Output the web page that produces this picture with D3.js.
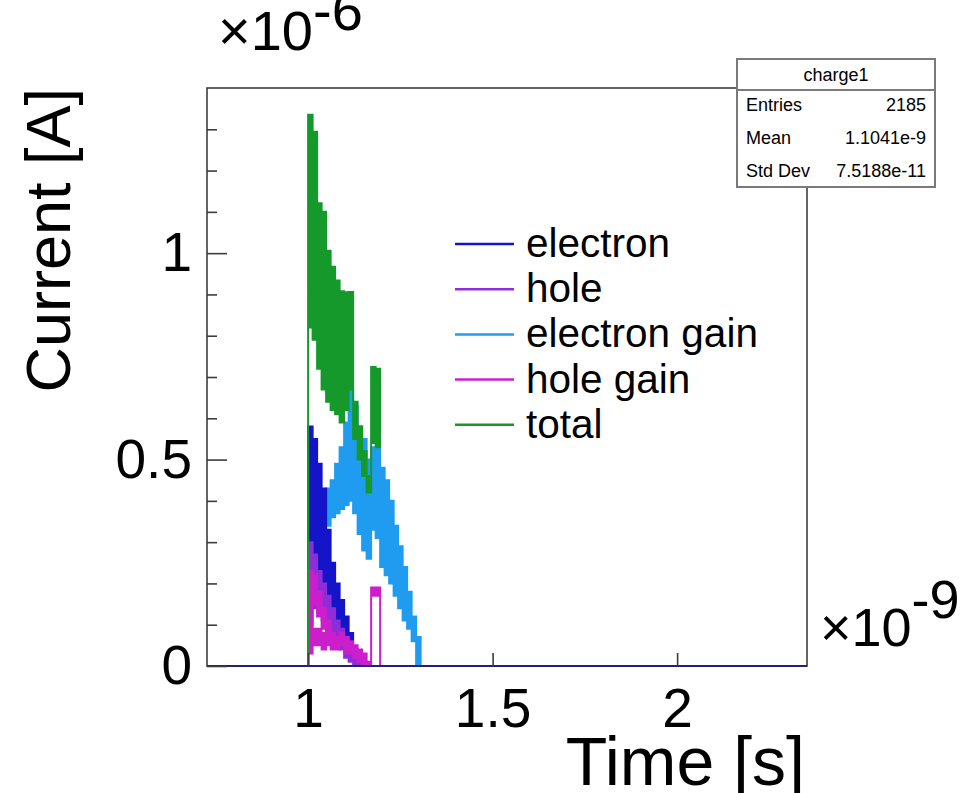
<!DOCTYPE html>
<html><head><meta charset="utf-8">
<script src="https://cdn.jsdelivr.net/npm/d3@7"></script>
<style>
body{margin:0;background:#fff}
text{font-family:"Liberation Sans",Arial,Helvetica,sans-serif;fill:#000}
</style></head>
<body><svg id="c" width="974" height="793"></svg>
<script>
// ---- data (current in units of 1e-6 A, time in units of 1e-9 s) ----
const binStart = 1.0;
const binWidth = 0.0122;

// each series: per-bin lower / upper envelope of the (rapidly oscillating) histogram
const electronHi = [0.58, 0.55, 0.49, 0.43, 0.33, 0.25, 0.20, 0.16, 0.12, 0.08, 0.04, 0.015, 0.005];
const electronLo = [0.22, 0.21, 0.19, 0.17, 0.15, 0.13, 0.11, 0.09, 0.06, 0.03, 0.01, 0.0, 0.0];

const holeHi = [0.30, 0.27, 0.23, 0.20, 0.17, 0.14, 0.11, 0.09, 0.07, 0.04, 0.02, 0.01];
const holeLo = [0.14, 0.14, 0.13, 0.11, 0.09, 0.07, 0.05, 0.04, 0.02, 0.01, 0.0, 0.0];

const eGainHi = [0.25, 0.30, 0.35, 0.38, 0.43, 0.45, 0.49, 0.53, 0.59, 0.673, 0.63, 0.58, 0.55, 0.50, 0.53, 0.53, 0.48, 0.45, 0.40, 0.34, 0.29, 0.24, 0.18, 0.12, 0.07];
const eGainLo = [0.10, 0.18, 0.24, 0.30, 0.34, 0.36, 0.37, 0.38, 0.39, 0.40, 0.37, 0.32, 0.28, 0.26, 0.33, 0.31, 0.24, 0.22, 0.20, 0.17, 0.14, 0.11, 0.09, 0.06, 0.0];

const hGainHi = [0.16, 0.09, 0.09, 0.08, 0.09, 0.08, 0.07, 0.08, 0.07, 0.06, 0.05, 0.04, 0.03, 0.01, 0.19, 0.19];
const hGainLo = [0.03, 0.05, 0.05, 0.04, 0.05, 0.04, 0.04, 0.05, 0.03, 0.03, 0.02, 0.01, 0.0, 0.0, 0.17, 0.17];
const hGainUpperHi = [0.23, 0.22, 0.18, 0.14, 0.11];
const hGainUpperLo = [0.16, 0.15, 0.12, 0.09, 0.08];

const totalHi = [1.335, 1.294, 1.121, 1.100, 1.006, 0.967, 0.934, 0.908, 0.905, 0.906, 0.640, 0.580, 0.520, 0.460, 0.724, 0.720];
const totalLo = [0.820, 0.790, 0.720, 0.670, 0.640, 0.620, 0.610, 0.590, 0.620, 0.670, 0.550, 0.500, 0.460, 0.420, 0.540, 0.530];

const legendNames = ["electron", "hole", "electron gain", "hole gain", "total"];
const legendColors = ["#1414c8", "#8e2ed8", "#1f9cf0", "#cc1fcc", "#15992b"];

const xMajor = [1, 1.5, 2];
const yMajor = [0, 0.5, 1];
const yMinor = [0.1, 0.2, 0.3, 0.4, 0.6, 0.7, 0.8, 0.9, 1.1, 1.2, 1.3];

const statsTitle = "charge1";
const statsLabels = ["Entries", "Mean", "Std Dev"];
const statsValues = ["2185", "1.1041e-9", "7.5188e-11"];

// ---- layout ----
const L = 207, R = 807, T = 88, B = 666;
const svg = d3.select("#c");
const x = d3.scaleLinear().domain([0.726, 2.352]).range([L, R]);
const y = d3.scaleLinear().domain([0, 1.4]).range([B, T]);

// frame
svg.append("rect").attr("x", L).attr("y", T).attr("width", R - L).attr("height", B - T)
  .attr("fill", "none").attr("stroke", "#3c3c3c").attr("stroke-width", 1.6);

// histogram bands
const gData = svg.append("g");
function band(lo, hi, color, startBin, riseStart, fallEnd) {
  const pts = hi.map((h, i) => ({x: binStart + (startBin + i) * binWidth, lo: lo[i], hi: h}));
  const last = pts[pts.length - 1];
  pts.push({x: binStart + (startBin + hi.length) * binWidth, lo: last.lo, hi: last.hi});
  const area = d3.area().x(d => x(d.x)).y0(d => y(d.lo)).y1(d => y(d.hi)).curve(d3.curveStepAfter);
  gData.append("path").attr("d", area(pts)).attr("fill", color)
    .attr("stroke", color).attr("stroke-width", 2).attr("stroke-linejoin", "miter");
  const ln = d3.line().x(d => x(d[0])).y(d => y(d[1]));
  if (riseStart) {
    gData.append("path").attr("d", ln([[pts[0].x, 0], [pts[0].x, pts[0].lo]]))
      .attr("stroke", color).attr("stroke-width", 2).attr("fill", "none");
  }
  if (fallEnd) {
    gData.append("path").attr("d", ln([[last.x + binWidth, last.lo], [last.x + binWidth, 0]]))
      .attr("stroke", color).attr("stroke-width", 2).attr("fill", "none");
  }
}
band(eGainLo, eGainHi, legendColors[2], 0, true, true);
band(electronLo, electronHi, legendColors[0], 0, true, true);
band(holeLo, holeHi, legendColors[1], 0, true, true);
band(hGainLo, hGainHi, legendColors[3], 0, true, true);
band(hGainUpperLo, hGainUpperHi, legendColors[3], 0, false, false);
band(totalLo, totalHi, legendColors[4], 0, true, false);

// zero line of the histograms
svg.append("line").attr("x1", L).attr("x2", R).attr("y1", y(0)).attr("y2", y(0))
  .attr("stroke", "#22226e").attr("stroke-width", 2);

// axes
const fs = 55;
const xAx = svg.append("g").attr("transform", `translate(0,${B})`)
  .call(d3.axisBottom(x).tickValues(xMajor).tickSize(-13).tickPadding(22).tickFormat(d3.format("")));
const yAx = svg.append("g").attr("transform", `translate(${L},0)`)
  .call(d3.axisLeft(y).tickValues(yMajor).tickSize(-20).tickPadding(15).tickFormat(d3.format("")));
const yAxm = svg.append("g").attr("transform", `translate(${L},0)`)
  .call(d3.axisLeft(y).tickValues(yMinor).tickSize(-10).tickFormat(""));
[xAx, yAx, yAxm].forEach(g => {
  g.select(".domain").remove();
  g.selectAll("line").attr("stroke", "#3c3c3c").attr("stroke-width", 1.6);
  g.selectAll("text").attr("font-size", fs).attr("font-family", '"Liberation Sans",Arial,sans-serif').attr("fill", "#000");
});

// axis titles
svg.append("text").attr("x", 805).attr("y", 785).attr("text-anchor", "end")
  .attr("font-size", 68).text("Time [s]");
svg.append("text").attr("transform", "translate(70,88) rotate(-90)").attr("text-anchor", "end")
  .attr("font-size", 63).text("Current [A]");

// exponent labels
function expo(xp, yp, e, size, shift) {
  const t = svg.append("text").attr("x", xp).attr("y", yp).attr("font-size", size);
  t.append("tspan").text("\u00d710");
  t.append("tspan").attr("dy", shift).text(e);
}
expo(218, 50, "-6", 56, -20);
expo(820, 646, "-9", 54, -28);

// legend
const lg = svg.append("g");
legendNames.forEach((n, i) => {
  const yy = 243 + i * 45.2;
  lg.append("line").attr("x1", 455).attr("x2", 514).attr("y1", yy + 1).attr("y2", yy + 1)
    .attr("stroke", legendColors[i]).attr("stroke-width", 2.5);
  lg.append("text").attr("x", 526).attr("y", yy + 14).attr("font-size", 40.5).text(n);
});

// stats box
const sb = svg.append("g");
sb.append("rect").attr("x", 737).attr("y", 59).attr("width", 198).attr("height", 128)
  .attr("fill", "#fff").attr("stroke", "#7a7a7a").attr("stroke-width", 2);
sb.append("line").attr("x1", 737).attr("x2", 935).attr("y1", 90).attr("y2", 90)
  .attr("stroke", "#7a7a7a").attr("stroke-width", 2);
sb.append("text").attr("x", 836).attr("y", 81).attr("text-anchor", "middle").attr("font-size", 18).text(statsTitle);
statsLabels.forEach((l, i) => {
  const yy = 111 + i * 33;
  sb.append("text").attr("x", 746).attr("y", yy).attr("font-size", 18).text(l);
  sb.append("text").attr("x", 926).attr("y", yy).attr("text-anchor", "end").attr("font-size", 18).text(statsValues[i]);
});
</script>
</body></html>
